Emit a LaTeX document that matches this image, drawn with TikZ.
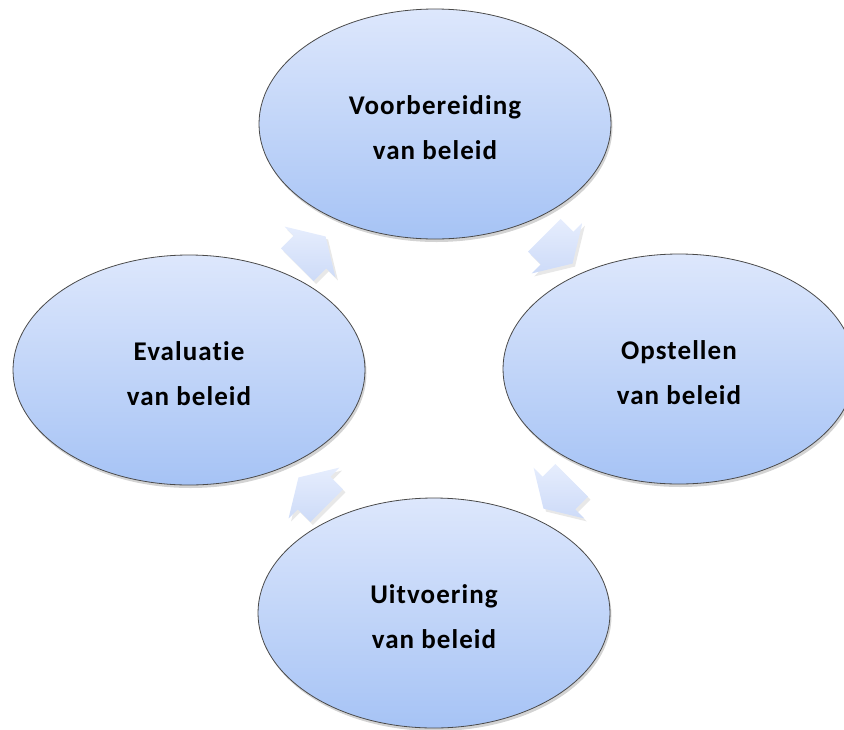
\documentclass[tikz,border=0pt]{standalone}
\usepackage{fontspec}
\setmainfont{Carlito}
\newfontfamily\lblfont{Carlito}[LetterSpace=4, Ligatures=NoCommon]
\usetikzlibrary{shapes.geometric,shadows}
\definecolor{elltop}{HTML}{DDE7FC}
\definecolor{ellbot}{HTML}{A6C3F5}
\definecolor{arrtop}{HTML}{E6EDFD}
\definecolor{arrbot}{HTML}{CDDBF8}
\definecolor{ellline}{HTML}{4A4A4A}
\tikzset{
  stage/.style={ellipse, draw=ellline, line width=0.8pt,
    top color=elltop, bottom color=ellbot,
    minimum width=352pt, minimum height=230pt, inner sep=0pt,
    drop shadow={opacity=0.35, shadow xshift=1.5pt, shadow yshift=-3pt}},
  stagetext/.style={align=center, inner sep=0pt,
    font=\lblfont\bfseries\fontsize{27}{45}\selectfont},
  cyclearrow/.pic={
    \path[draw=none, top color=arrtop, bottom color=arrbot,
      drop shadow={opacity=0.18, shadow xshift=2.5pt, shadow yshift=-3pt}]
      (-18,-23) -- (0,-23) -- (0,-36) -- (22,0) -- (0,36) -- (0,23) -- (-18,23) -- cycle;
  }
}
\begin{document}
\begin{tikzpicture}[x=1pt, y=-1pt]
\useasboundingbox (0,0) rectangle (844,729);
\node[stage] (voor) at (435,124) {};
\node[stage] (opst) at (679,369) {};
\node[stage] (uitv) at (434,613) {};
\node[stage] (eval) at (189,370) {};
\node[stagetext] (voort) at ([yshift=-4pt]voor.center) {Voorbereiding\\van beleid};
\node[stagetext] (opstt) at ([yshift=-4pt]opst.center) {Opstellen\\van beleid};
\node[stagetext] (uitvt) at ([yshift=-4pt]uitv.center) {Uitvoering\\van beleid};
\node[stagetext] (evalt) at ([yshift=-4pt]eval.center) {Evaluatie\\van beleid};
\coordinate (a1) at (310,252);
\coordinate (a2) at (557,248);
\coordinate (a3) at (559,493);
\coordinate (a4) at (314,493);
\pic[rotate=45] at (a1) {cyclearrow};
\pic[rotate=-45] at (a2) {cyclearrow};
\pic[rotate=-135] at (a3) {cyclearrow};
\pic[rotate=135] at (a4) {cyclearrow};
\end{tikzpicture}
\end{document}
